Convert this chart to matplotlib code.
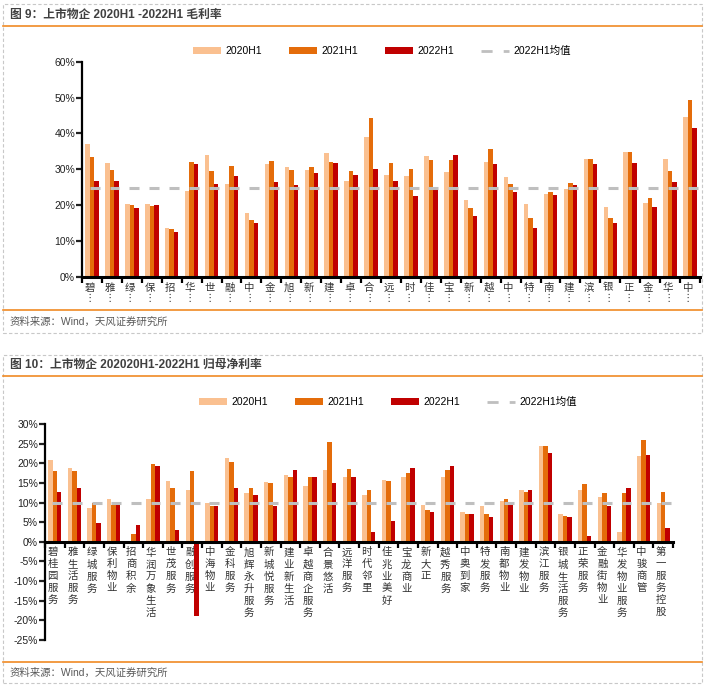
import numpy as np
import matplotlib
matplotlib.use("Agg")
import matplotlib.pyplot as plt
from matplotlib.patches import Rectangle, Patch
from matplotlib.lines import Line2D
from matplotlib.ticker import FuncFormatter, FixedLocator
from matplotlib.transforms import ScaledTranslation

plt.rcParams["font.family"] = ["Liberation Sans", "Noto Sans CJK SC", "DejaVu Sans"]

W, H = 705, 690

# ---- data: gross margin (%), 31 companies
gm_names = ["碧", "雅", "绿", "保", "招", "华", "世", "融", "中", "金", "旭", "新", "建",
            "卓", "合", "远", "时", "佳", "宝", "新", "越", "中", "特", "南", "建", "滨",
            "银", "正", "金", "华", "中"]
gm_2020 = [37.1, 31.8, 20.4, 20.4, 13.7, 24.0, 34.0, 26.0, 17.9, 31.5, 30.7, 29.9, 34.6,
           26.8, 39.1, 28.5, 28.2, 33.8, 29.3, 21.5, 32.1, 27.9, 20.4, 23.2, 24.6, 32.9,
           19.6, 34.9, 20.7, 32.9, 44.6]
gm_2021 = [33.5, 29.9, 20.1, 19.9, 13.5, 32.1, 29.6, 31.0, 16.0, 32.4, 29.9, 30.7, 32.1,
           29.6, 44.3, 31.8, 30.1, 32.7, 32.7, 19.3, 35.7, 26.0, 16.5, 23.7, 26.3, 32.9,
           16.5, 34.9, 22.1, 29.6, 49.4]
gm_2022 = [26.8, 26.8, 19.3, 20.1, 12.6, 31.5, 26.0, 28.2, 15.1, 26.5, 25.7, 29.0, 31.8,
           28.5, 30.1, 26.8, 22.6, 24.6, 34.0, 17.1, 31.5, 23.7, 13.7, 22.9, 25.7, 31.5,
           15.1, 31.8, 19.6, 26.5, 41.6]
gm_mean = 24.8

# ---- data: net margin attributable to parent (%), 32 companies
nm_names = ["碧桂园服务", "雅生活服务", "绿城服务", "保利物业", "招商积余", "华润万象生活",
            "世茂服务", "融创服务", "中海物业", "金科服务", "旭辉永升服务", "新城悦服务",
            "建业新生活", "卓越商企服务", "合景悠活", "远洋服务", "时代邻里", "佳兆业美好",
            "宝龙商业", "新大正", "越秀服务", "中奥到家", "特发服务", "南都物业", "建发物业",
            "滨江服务", "银城生活服务", "正荣服务", "金融街物业", "华发物业服务", "中骏商管",
            "第一服务控股"]
nm_2020 = [20.9, 18.9, 8.5, 11.0, 0.0, 10.8, 15.6, 13.3, 10.0, 21.4, 12.5, 15.3, 17.1,
           14.3, 18.4, 16.6, 11.8, 15.8, 16.6, 9.5, 16.4, 7.5, 9.0, 10.3, 13.3, 24.5,
           7.0, 13.3, 11.3, 2.6, 21.9, 10.0]
nm_2021 = [18.1, 18.1, 10.0, 9.5, 2.1, 19.9, 13.6, 18.1, 9.0, 20.4, 13.6, 15.1, 16.6,
           16.4, 25.5, 18.6, 13.1, 15.6, 17.4, 8.2, 18.4, 7.2, 7.2, 11.0, 12.8, 24.5,
           6.7, 14.6, 12.5, 12.5, 25.8, 12.8]
nm_2022 = [12.8, 13.8, 4.9, 10.0, 4.4, 19.4, 3.1, -19.0, 9.0, 13.8, 11.8, 9.0, 18.4,
           16.6, 15.1, 16.6, 2.4, 5.4, 18.9, 7.5, 19.2, 7.2, 6.2, 10.0, 13.1, 22.7,
           6.2, 1.4, 9.2, 13.6, 22.2, 3.6]
nm_mean = 10.0

series_labels = ["2020H1", "2021H1", "2022H1"]
colors = ["#FAC090", "#E46C0A", "#C00000"]
mean_color = "#BFBFBF"
orange = "#F08A24"
border = "#C8C8C8"


def px(x, y):
    return x / W, 1 - y / H


def box(x0, y0, x1, y1):
    l, t = px(x0, y0)
    r, b = px(x1, y1)
    return [l, b, r - l, t - b]


fig = plt.figure(figsize=(W / 100, H / 100), dpi=100)
fig.patch.set_facecolor("white")


def panel(y_top, y_bot, y_line1, y_line2, title, y_title, y_src):
    l, b = px(3, y_bot)
    r, t = px(702, y_top)
    fig.patches.append(Rectangle((l, b), r - l, t - b, transform=fig.transFigure,
                                 fill=False, ec=border, lw=0.8, ls=(0, (3, 2))))
    for yl in (y_line1, y_line2):
        xa, ya = px(3, yl)
        xb, _ = px(702, yl)
        fig.add_artist(Line2D([xa, xb], [ya, ya], transform=fig.transFigure,
                              color=orange, lw=1.2))
    tx, ty = px(10, y_title)
    fig.text(tx, ty, title, fontsize=8.5, fontweight="bold", color="#404040", va="center")
    sx, sy = px(10, y_src)
    fig.text(sx, sy, "资料来源：Wind，天风证券研究所", fontsize=7.5, color="#595959", va="center")


def legend(ax, y_leg, x_leg):
    handles = [Patch(fc=c, ec="none") for c in colors]
    handles.append(Line2D([], [], color=mean_color, lw=2, ls=(0, (4, 4))))
    labels = series_labels + ["2022H1均值"]
    lx, ly = px(x_leg, y_leg)
    fig.legend(handles, labels, loc="center left", bbox_to_anchor=(lx, ly), ncol=4,
               frameon=False, fontsize=7.5, handlelength=2.7, handleheight=0.6,
               handletextpad=0.4, columnspacing=2.6, borderaxespad=0, borderpad=0)


def bars(ax, v1, v2, v3, mean):
    x = np.arange(len(v1))
    w = 0.225
    for k, (vals, c) in enumerate(zip((v1, v2, v3), colors)):
        ax.bar(x + (k - 1) * w, vals, width=w, color=c, zorder=2)
    ax.hlines([mean] * len(x), x - 0.12, x + 0.38, colors=mean_color, lw=2.2, zorder=3)
    ax.set_xlim(-0.5, len(x) - 0.5)
    ax.spines["top"].set_visible(False)
    ax.spines["right"].set_visible(False)
    ax.spines["left"].set_linewidth(1.6)
    ax.spines["bottom"].set_linewidth(2.2)
    ax.yaxis.set_major_formatter(FuncFormatter(lambda v, p: f"{v:.0f}%"))
    ax.tick_params(axis="y", direction="out", length=4, width=1.6, labelsize=7.5,
                   pad=1, colors="#222222")
    ax.xaxis.set_major_locator(FixedLocator(x))
    ax.xaxis.set_minor_locator(FixedLocator(np.arange(len(x) + 1) - 0.5))
    ax.tick_params(axis="x", which="major", length=0, pad=4, labelsize=7.5, colors="#333333")
    ax.tick_params(axis="x", which="minor", direction="out", length=4, width=1.6)
    return x


def shift_labels(ax):
    offset = ScaledTranslation(-2 / 100, 0, fig.dpi_scale_trans)
    for lab in ax.get_xticklabels():
        lab.set_transform(lab.get_transform() + offset)


# ---- top panel: gross margin
panel(4, 333, 26, 310, "图 9：上市物企 2020H1 -2022H1 毛利率", 15, 322)
ax1 = fig.add_axes(box(82, 61.7, 700, 277))
x1 = bars(ax1, gm_2020, gm_2021, gm_2022, gm_mean)
ax1.set_ylim(0, 60)
ax1.set_yticks(np.arange(0, 61, 10))
ax1.set_xticklabels([n + "\n⋮" for n in gm_names], linespacing=1.0, va="top")
shift_labels(ax1)
legend(ax1, 51, 193)

# ---- bottom panel: net margin
panel(355, 683, 376, 662, "图 10：上市物企 202020H1-2022H1 归母净利率", 365, 673)
ax2 = fig.add_axes(box(45, 424, 673, 640))
x2 = bars(ax2, nm_2020, nm_2021, nm_2022, nm_mean)
ax2.set_ylim(-25, 30)
ax2.set_yticks(np.arange(-25, 31, 5))
ax2.spines["bottom"].set_position(("data", 0))
ax2.set_xticklabels(["\n".join(n) for n in nm_names], linespacing=1.25, va="top")
shift_labels(ax2)
legend(ax2, 402, 199)

fig.savefig("out.png", dpi=100, facecolor="white")
